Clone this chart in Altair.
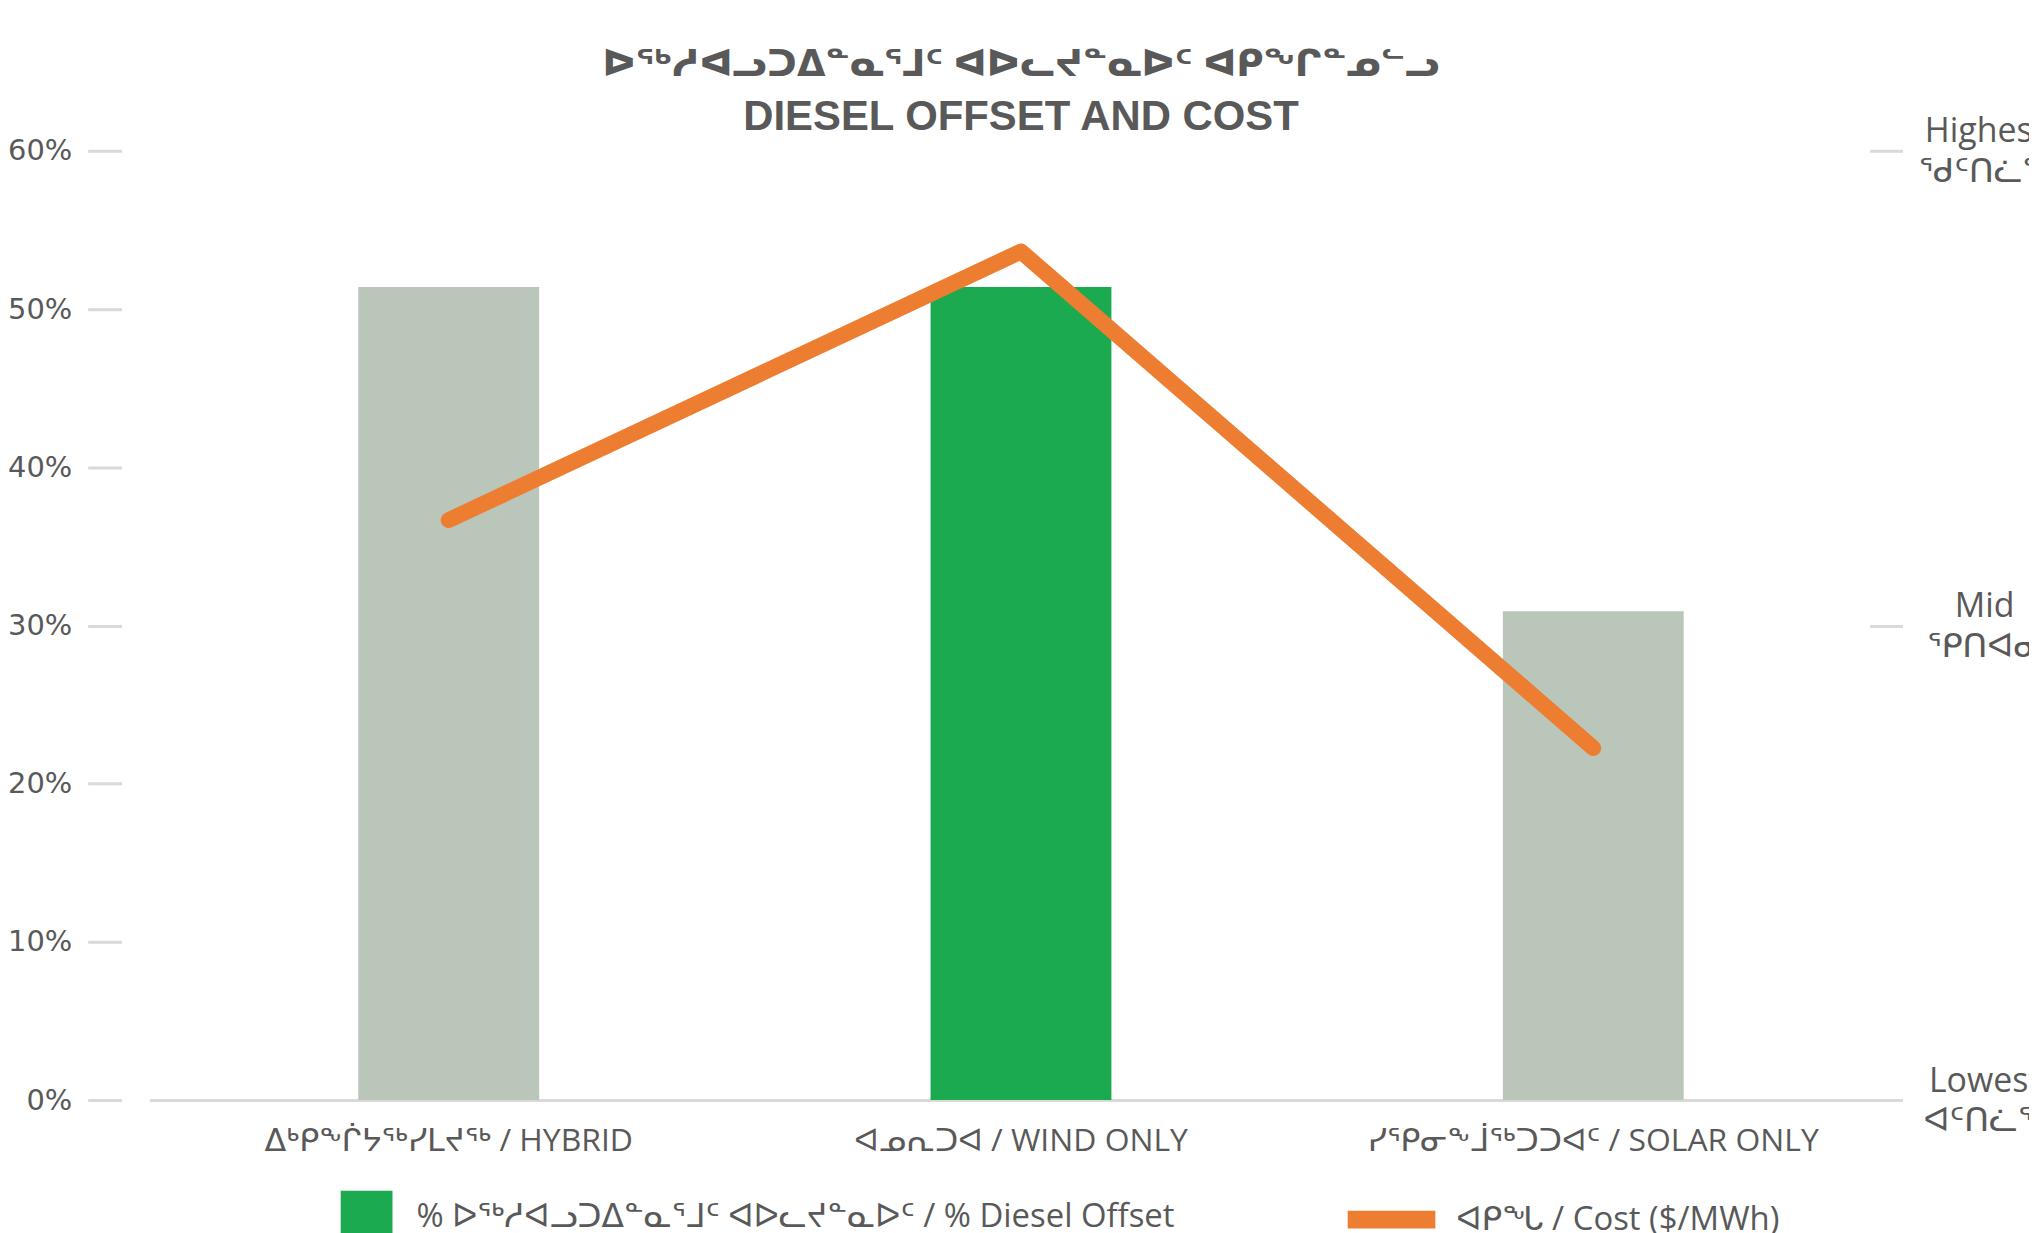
import altair as alt
import pandas as pd

# ---- data ----
categories = [
    "ᐃᒃᑭᖕᒌᔭᖅᓯᒪᔪᖅ / HYBRID",
    "ᐊᓄᕆᑐᐊ / WIND ONLY",
    "ᓯᕿᓂᖕᒨᖅᑐᑐᐊᑦ / SOLAR ONLY",
]
diesel_offset = [0.514, 0.514, 0.309]          # left axis, share of diesel offset
cost_relative = [0.611, 0.894, 0.371]          # right axis, Lowest (0) .. Highest (1)
highlight = [False, True, False]

offset_label = "% ᐅᖅᓱᐊᓗᑐᐃᓐᓇᕐᒧᑦ ᐊᐅᓚᔪᓐᓇᐅᑦ / % Diesel Offset"
cost_label = "ᐊᑭᖓ / Cost ($/MWh)"
other_label = "other"

title_line_1 = "ᐅᖅᓱᐊᓗᑐᐃᓐᓇᕐᒧᑦ ᐊᐅᓚᔪᓐᓇᐅᑦ ᐊᑭᖏᓐᓄᓪᓗ"
title_line_2 = "DIESEL OFFSET AND COST"
pct_ticks = [0.0, 0.1, 0.2, 0.3, 0.4, 0.5, 0.6]
cost_ticks = [0.0, 0.5, 1.0]
cost_tick_labels = [["Lowest", "ᐊᑦᑎᓛᖅ"], ["Mid", "ᕿᑎᐊᓂ"], ["Highest", "ᖁᑦᑎᓛᖅ"]]

# ---- styling ----
TEXT = "#595959"
GRID = "#d9d9d9"
GREEN = "#1BAA4F"
GREY = "#BAC6B9"
ORANGE = "#ED7D31"
SANS = "Open Sans, DejaVu Sans"
NARROW = "Liberation Sans Narrow, Open Sans, DejaVu Sans"

df = pd.DataFrame({
    "category": categories,
    "offset": diesel_offset,
    "cost": cost_relative,
    "series": [offset_label if h else other_label for h in highlight],
    "cost_series": [cost_label] * len(categories),
})

label_expr = " : ".join(
    f"datum.value == {v} ? ['{a}', '{b}']" for v, (a, b) in zip(cost_ticks[1:], cost_tick_labels[1:])
) + f" : ['{cost_tick_labels[0][0]}', '{cost_tick_labels[0][1]}']"

x_enc = alt.X(
    "category:N",
    sort=categories,
    scale=alt.Scale(paddingInner=0.684, paddingOuter=0.365),
    axis=alt.Axis(
        title=None, labelAngle=0, ticks=False, domainColor=GRID, domainWidth=3,
        labelFont=SANS, labelFontSize=32, labelColor=TEXT, labelPadding=26,
        labelLimit=0,
    ),
)

bars = alt.Chart(df).mark_bar().encode(
    x=x_enc,
    y=alt.Y(
        "offset:Q",
        scale=alt.Scale(domain=[0, 0.6]),
        axis=alt.Axis(
            title=None, format=".0%", values=pct_ticks, grid=False, domain=False,
            tickColor=GRID, tickWidth=3, tickSize=34, offset=28, labelPadding=16,
            labelFont="DejaVu Sans", labelFontSize=29, labelColor=TEXT,
        ),
    ),
    color=alt.Color(
        "series:N",
        scale=alt.Scale(domain=[offset_label, other_label], range=[GREEN, GREY]),
        legend=alt.Legend(
            title=None, orient="none", legendX=192, legendY=1044, values=[offset_label],
            symbolType="square", symbolSize=2704, symbolStrokeWidth=0,
            labelFont=NARROW, labelFontSize=33, labelColor=TEXT, labelOffset=24,
            labelLimit=0,
        ),
    ),
)

line = alt.Chart(df).mark_line(strokeWidth=16, strokeCap="round", strokeJoin="round").encode(
    x=alt.X("category:N", sort=categories),
    y=alt.Y(
        "cost:Q",
        scale=alt.Scale(domain=[0, 1]),
        axis=alt.Axis(
            title=None, orient="right", values=cost_ticks, grid=False, domain=False,
            tickColor=GRID, tickWidth=3, tickSize=33, offset=-23, labelPadding=82,
            labelAlign="center", labelBaseline="middle", labelLineHeight=40,
            labelOffset=-19,
            labelExpr=label_expr, labelFont=SANS, labelFontSize=34, labelColor=TEXT,
            labelOverlap=False, labelLimit=0,
        ),
    ),
    stroke=alt.Stroke(
        "cost_series:N",
        scale=alt.Scale(domain=[cost_label], range=[ORANGE]),
        legend=alt.Legend(
            title=None, orient="none", legendX=1194, legendY=1020,
            symbolType="stroke", symbolSize=88 * 88, symbolStrokeWidth=18,
            labelFont=SANS, labelFontSize=33, labelColor=TEXT, labelOffset=12,
            labelLimit=0,
        ),
    ),
)

chart = (
    alt.layer(bars, line)
    .resolve_scale(y="independent")
    .properties(
        width=1750,
        height=953,
        autosize=alt.AutoSizeParams(type="none"),
        padding={"left": 142, "top": 141, "right": 137, "bottom": 131},
        title=alt.TitleParams(
            text=title_line_1, subtitle=title_line_2,
            font="Liberation Sans, DejaVu Sans", fontSize=37, fontWeight="bold", color=TEXT,
            subtitleFont="Liberation Sans, DejaVu Sans", subtitleFontSize=42,
            subtitleFontWeight="bold", subtitleColor=TEXT, subtitlePadding=13,
            anchor="middle", frame="group", offset=-24,
        ),
        background="white",
    )
    .configure_view(stroke=None)
)

chart.save("out.html", embed_options={"renderer": "svg", "actions": False})
